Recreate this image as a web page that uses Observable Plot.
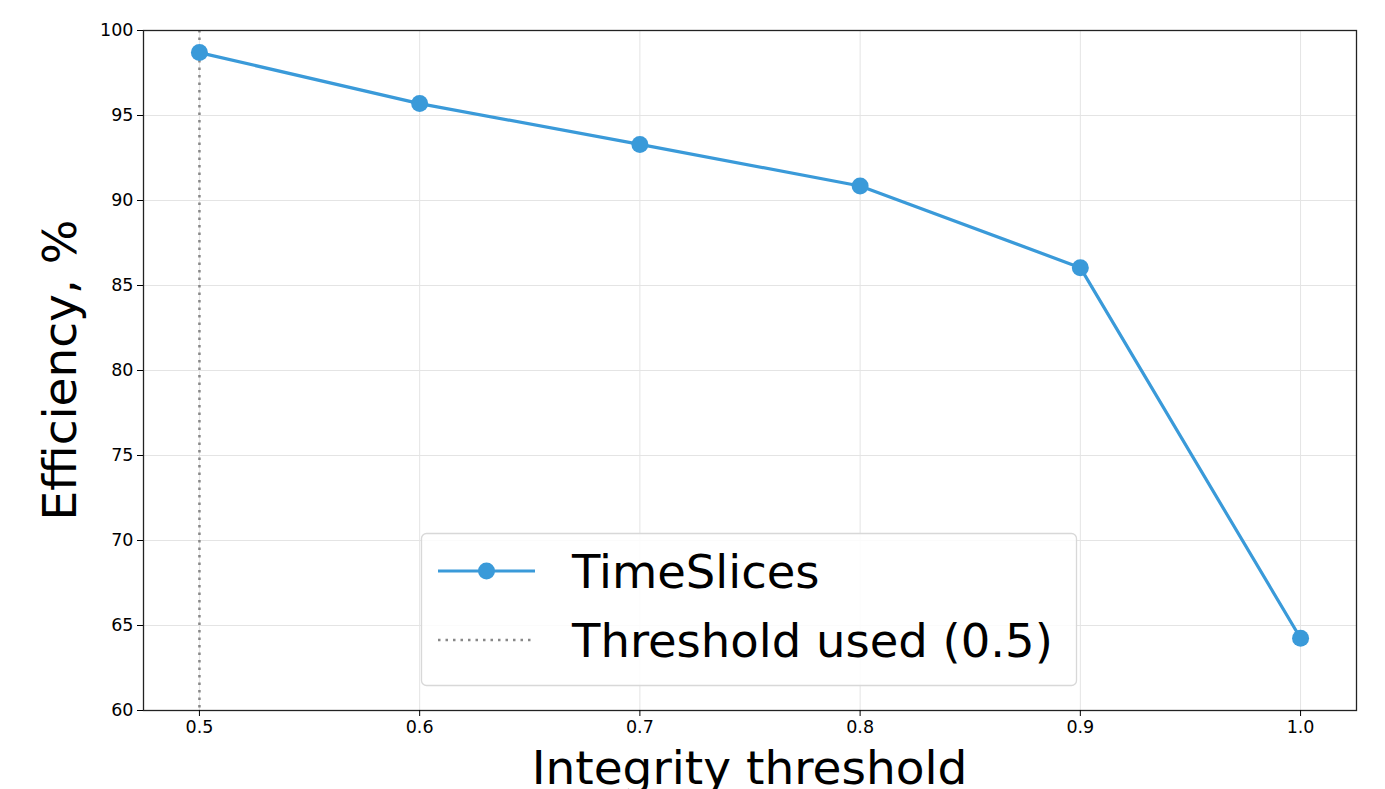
<!DOCTYPE html>
<html><head><meta charset="utf-8">
<script src="https://cdn.jsdelivr.net/npm/d3@7"></script>
<script src="https://cdn.jsdelivr.net/npm/@observablehq/plot@0.6"></script>
<style>
html,body{margin:0;padding:0;background:#fff;}
#chart svg{font-family:"DejaVu Sans",sans-serif;display:block;}
</style>
</head><body><div id="chart"></div>
<script>
const thresholds = [0.5, 0.6, 0.7, 0.8, 0.9, 1.0];
const efficiency = [98.7, 95.7, 93.3, 90.85, 86.05, 64.25];
const xTicks = [0.5, 0.6, 0.7, 0.8, 0.9, 1.0];
const yTicks = [60, 65, 70, 75, 80, 85, 90, 95, 100];
const thresholdUsed = [0.5];
const seriesName = "TimeSlices";
const thresholdName = "Threshold used (0.5)";
const xLabel = "Integrity threshold";
const yLabel = "Efficiency, %";

const data = thresholds.map((t, i) => ({t, e: efficiency[i]}));
const lineColor = "#3a9ad9";
const W = 1385, H = 789;
const mL = 143, mR = 29, mT = 30, mB = 79;

const plot = Plot.plot({
  width: W, height: H,
  marginLeft: mL, marginRight: mR, marginTop: mT, marginBottom: mB,
  style: {fontFamily: "DejaVu Sans, sans-serif", fontSize: "17.5px", color: "#000", background: "#fff"},
  x: {domain: [0.4746, 1.0254]},
  y: {domain: [60, 100]},
  marks: [
    Plot.gridX(xTicks, {stroke: "#e4e4e4", strokeOpacity: 1, strokeWidth: 1}),
    Plot.gridY(yTicks, {stroke: "#e4e4e4", strokeOpacity: 1, strokeWidth: 1}),
    Plot.ruleX(thresholdUsed, {stroke: "#888", strokeWidth: 2.5, strokeDasharray: "2.5,5"}),
    Plot.line(data, {x: "t", y: "e", stroke: lineColor, strokeWidth: 3.2}),
    Plot.dot(data, {x: "t", y: "e", fill: lineColor, r: 8.5}),
    Plot.frame({stroke: "#222", strokeWidth: 1.3}),
    Plot.axisX(xTicks, {tickSize: 6, tickPadding: 4, fontSize: 17.5, label: null, tickFormat: d => d.toFixed(1)}),
    Plot.axisY(yTicks, {tickSize: 6, tickPadding: 4, fontSize: 17.5, label: null})
  ]
});
document.getElementById("chart").appendChild(plot);

const svg = d3.select(plot);
svg.append("text").attr("x", (mL + W - mR) / 2).attr("y", 784)
  .attr("text-anchor", "middle").attr("font-size", 47).attr("fill", "#000").text(xLabel);
svg.append("text").attr("transform", `translate(76,${(mT + H - mB) / 2}) rotate(-90)`)
  .attr("text-anchor", "middle").attr("font-size", 47).attr("fill", "#000").text(yLabel);

// legend
const lg = svg.append("g").attr("text-anchor", "start");
lg.append("rect").attr("x", 421.5).attr("y", 533.5).attr("width", 655).attr("height", 152)
  .attr("rx", 5).attr("fill", "#fff").attr("fill-opacity", 0.85).attr("stroke", "#d8d8d8").attr("stroke-width", 1.3);
lg.append("line").attr("x1", 438).attr("x2", 535).attr("y1", 571).attr("y2", 571)
  .attr("stroke", lineColor).attr("stroke-width", 3.2);
lg.append("circle").attr("cx", 486.5).attr("cy", 571).attr("r", 8.5).attr("fill", lineColor);
lg.append("line").attr("x1", 438).attr("x2", 535).attr("y1", 640).attr("y2", 640)
  .attr("stroke", "#888").attr("stroke-width", 2.5).attr("stroke-dasharray", "2.5,5");
lg.append("text").attr("x", 572).attr("y", 588).attr("text-anchor", "start").attr("font-size", 46.5).attr("fill", "#000").text(seriesName);
lg.append("text").attr("x", 572).attr("y", 657).attr("text-anchor", "start").attr("font-size", 46.5).attr("fill", "#000").text(thresholdName);
</script>
</body></html>
